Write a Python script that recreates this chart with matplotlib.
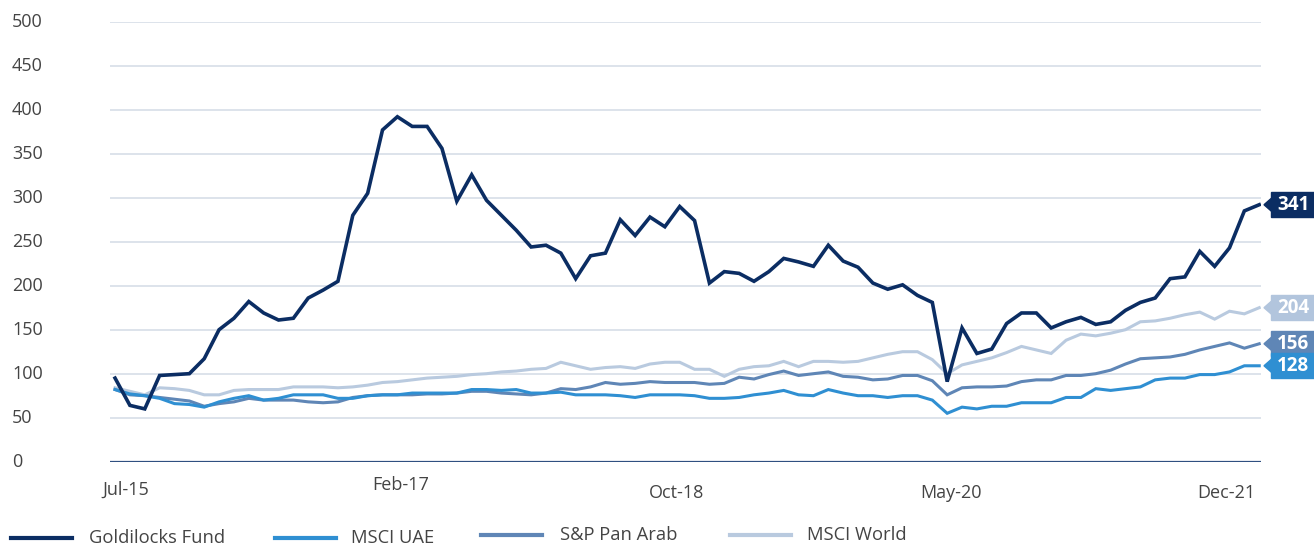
"""
Goldilocks Fund vs benchmarks — rebased performance line chart.
"""

import matplotlib
matplotlib.use("Agg")
import matplotlib.pyplot as plt
from matplotlib.lines import Line2D

# ── Data ───────────────────────────────────────────────────────────────────

tick_labels = ["Jul-15", "Feb-17", "Oct-18", "May-20", "Dec-21"]
y_ticks = [0, 50, 100, 150, 200, 250, 300, 350, 400, 450, 500]

goldilocks = [
    95, 64, 60, 98, 99, 100, 117, 150, 163, 182,
    169, 161, 163, 186, 195, 205, 280, 305, 377, 392,
    381, 381, 356, 296, 326, 297, 280, 263, 244, 246,
    237, 208, 234, 237, 275, 257, 278, 267, 290, 274,
    203, 216, 214, 205, 216, 231, 227, 222, 246, 228,
    221, 203, 196, 201, 189, 181, 91, 152, 123, 128,
    157, 169, 169, 152, 159, 164, 156, 159, 172, 181,
    186, 208, 210, 239, 222, 243, 285, 292,
]
msci_uae = [
    82, 77, 75, 72, 66, 65, 62, 68, 72, 75,
    70, 72, 76, 76, 76, 72, 72, 75, 76, 76,
    78, 78, 78, 78, 82, 82, 81, 82, 78, 78,
    79, 76, 76, 76, 75, 73, 76, 76, 76, 75,
    72, 72, 73, 76, 78, 81, 76, 75, 82, 78,
    75, 75, 73, 75, 75, 70, 55, 62, 60, 63,
    63, 67, 67, 67, 73, 73, 83, 81, 83, 85,
    93, 95, 95, 99, 99, 102, 109, 109,
]
sp_pan_arab = [
    82, 76, 75, 73, 71, 69, 63, 66, 68, 72,
    70, 70, 70, 68, 67, 68, 73, 75, 76, 76,
    76, 77, 77, 78, 80, 80, 78, 77, 76, 78,
    83, 82, 85, 90, 88, 89, 91, 90, 90, 90,
    88, 89, 96, 94, 99, 103, 98, 100, 102, 97,
    96, 93, 94, 98, 98, 92, 76, 84, 85, 85,
    86, 91, 93, 93, 98, 98, 100, 104, 111, 117,
    118, 119, 122, 127, 131, 135, 129, 134,
]
msci_world = [
    84, 80, 76, 84, 83, 81, 76, 76, 81, 82,
    82, 82, 85, 85, 85, 84, 85, 87, 90, 91,
    93, 95, 96, 97, 99, 100, 102, 103, 105, 106,
    113, 109, 105, 107, 108, 106, 111, 113, 113, 105,
    105, 97, 105, 108, 109, 114, 108, 114, 114, 113,
    114, 118, 122, 125, 125, 116, 100, 110, 114, 118,
    124, 131, 127, 123, 138, 145, 143, 146, 150, 159,
    160, 163, 167, 170, 162, 171, 168, 175,
]
end_labels = ["341", "204", "156", "128"]

# ── Styles ─────────────────────────────────────────────────────────────────

NAVY = "#0b2d63"
UAE_BLUE = "#2f8fd2"
PAN_BLUE = "#5f86b6"
WORLD_BLUE = "#b9cadf"
TAG_WORLD = "#b2c5dd"
TEXT = "#444444"
GRID = "#d3dbe6"

plt.rcParams["font.family"] = ["Open Sans", "DejaVu Sans"]

fig = plt.figure(figsize=(13.14, 5.47), dpi=100)
W, H = 1314, 547
ax_left, ax_right = 110, 1261
ax_top, ax_bottom = 21.7, 461.7
PX_PER_UNIT = (ax_bottom - ax_top) / 500
ax = fig.add_axes([
    ax_left / W, (H - ax_bottom) / H,
    (ax_right - ax_left) / W, (ax_bottom - ax_top) / H,
])

months = list(range(len(goldilocks)))
series = [
    (msci_world, WORLD_BLUE, 2.2),
    (sp_pan_arab, PAN_BLUE, 2.2),
    (msci_uae, UAE_BLUE, 2.2),
    (goldilocks, NAVY, 2.6),
]
for values, color, lw in series:
    ax.plot(months, values, color=color, lw=lw, solid_joinstyle="miter",
            zorder=3)

ax.set_xlim(-0.34, 77.12)
ax.set_ylim(0, 500)
for spine in ax.spines.values():
    spine.set_visible(False)
ax.set_xticks([])
ax.set_yticks([])

# gridlines + baseline
for yv in y_ticks[1:]:
    ax.axhline(yv, color=GRID, lw=1.1, zorder=1)
ax.axhline(0, color="#2f4f80", lw=1.6, zorder=2)


def fig_y(px):
    return 1 - px / H


# y labels, left aligned at the figure edge
for yv in y_ticks:
    fig.text(12 / W, fig_y(ax_bottom - yv * PX_PER_UNIT), str(yv),
             ha="left", va="center", fontsize=13, color=TEXT)

# x labels (hand placed, staggered like the source)
x_label_px = [126, 401, 677, 951, 1226]
x_label_py = [490, 485, 493, 493, 493]
for lab, px, py in zip(tick_labels, x_label_px, x_label_py):
    fig.text(px / W, fig_y(py), lab, ha="center", va="center",
             fontsize=13, color=TEXT)

# end-of-line value tags
tag_colors = [NAVY, TAG_WORLD, PAN_BLUE, UAE_BLUE]
tag_series = [goldilocks, msci_world, sp_pan_arab, msci_uae]
for lab, col, vals in zip(end_labels, tag_colors, tag_series):
    fy = fig_y(ax_bottom - vals[-1] * PX_PER_UNIT)
    fig.patches.append(plt.Rectangle(
        (1271 / W, fy - 12.5 / H), 43 / W, 25 / H,
        transform=fig.transFigure, color=col, zorder=5))
    fig.patches.append(plt.Polygon(
        [(1264 / W, fy), (1272 / W, fy + 7 / H), (1272 / W, fy - 7 / H)],
        closed=True, transform=fig.transFigure, color=col, zorder=5))
    fig.text(1293 / W, fy, lab, ha="center", va="center", fontsize=13.5,
             fontweight="bold", color="white", zorder=6)

# legend (kept a couple of px off the bottom edge so descenders fit)
legend_items = [
    ("Goldilocks Fund", NAVY, 11, 89, 538),
    ("MSCI UAE", UAE_BLUE, 275, 351, 538),
    ("S&P Pan Arab", PAN_BLUE, 481, 560, 535),
    ("MSCI World", WORLD_BLUE, 730, 807, 535),
]
for name, col, lx, tx, py in legend_items:
    fy = fig_y(py)
    fig.add_artist(Line2D([lx / W, (lx + 61) / W], [fy, fy], color=col,
                          lw=3.0, transform=fig.transFigure))
    fig.text(tx / W, fy, name, ha="left", va="center", fontsize=13.2,
             color=TEXT)

fig.savefig("out.png", dpi=100)
